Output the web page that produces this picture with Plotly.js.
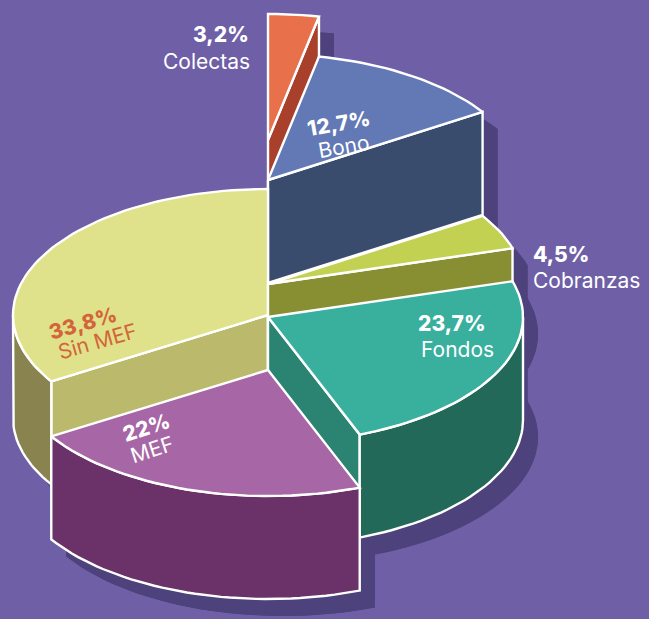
<!DOCTYPE html>
<html>
<head>
<meta charset="utf-8">
<script src="https://cdn.plot.ly/plotly-3.0.1.min.js"></script>
<style>html,body{margin:0;padding:0;background:#6e5fa6;}#chart{width:649px;height:619px;}</style>
</head>
<body>
<div id="chart"></div>
<script>
// ---- data ----
const categories = ["Colectas", "Bono", "Cobranzas", "Fondos", "MEF", "Sin MEF"];
const values = [3.2, 12.7, 4.5, 23.7, 22, 33.8];
const pctLabels = ["3,2%", "12,7%", "4,5%", "23,7%", "22%", "33,8%"];

// ---- style ----
const topColors = ["#e8704a", "#6279b6", "#c3d152", "#39af9e", "#a766a6", "#dfe28a"];
const radialColors = ["#a8402c", "#3a4c6e", "#878f32", "#2b8471", "#6a3268", "#bbb96b"];
const outerColors = ["#a8402c", "#3a4c6e", "#878f32", "#22695a", "#6a3268", "#88834f"];
const topCenterY = [140, 180, 284, 317, 370, 315];   // visual elevation of each slice (px)
const labelColors = ["#ffffff", "#ffffff", "#ffffff", "#ffffff", "#ffffff", "#d4643a"];
const bg = "#6e5fa6", shadowColor = "#4d427b";
const CX = 268, RX = 255, RY = 126, H = 103;
const SHX = 15, SHY = 17;

const total = values.reduce((s, v) => s + v, 0);
const slices = [];
let acc = 0;
values.forEach((v, i) => {
  const a = acc / total * 360;
  acc += v;
  const b = acc / total * 360;
  slices.push({i, a, b, mid: (a + b) / 2, yc: topCenterY[i]});
});

const rad = d => d * Math.PI / 180;
function arcPts(a, b, yc) {
  const n = Math.max(2, Math.ceil((b - a) / 2));
  const xs = [], ys = [];
  for (let k = 0; k <= n; k++) {
    const t = rad(a + (b - a) * k / n);
    xs.push(CX + RX * Math.sin(t));
    ys.push(yc - RY * Math.cos(t));
  }
  return {xs, ys};
}
function pt(th, yc) { const t = rad(th); return [CX + RX * Math.sin(t), yc - RY * Math.cos(t)]; }

function sectorPoly(s, yc) {
  const p = arcPts(s.a, s.b, yc);
  return {x: [CX, ...p.xs, CX], y: [yc, ...p.ys, yc]};
}
function bandPoly(a, b, yc) {
  const t = arcPts(a, b, yc), bo = arcPts(a, b, yc + H);
  return {x: [...t.xs, ...bo.xs.slice().reverse(), t.xs[0]], y: [...t.ys, ...bo.ys.slice().reverse(), t.ys[0]]};
}
function radialPoly(th, yc) {
  const p = pt(th, yc);
  return {x: [CX, p[0], p[0], CX, CX], y: [yc, p[1], p[1] + H, yc + H, yc]};
}

const traces = [];
function poly(P, fill, line, dx = 0, dy = 0) {
  traces.push({
    type: "scatter", mode: "lines", fill: "toself",
    x: P.x.map(v => v + dx), y: P.y.map(v => v + dy),
    fillcolor: fill,
    line: line ? {color: "#ffffff", width: 2.4} : {width: 0, color: fill},
    hoverinfo: "skip", showlegend: false
  });
}

// shadows
slices.forEach(s => {
  poly(sectorPoly(s, s.yc), shadowColor, false, SHX, SHY);
  poly(sectorPoly(s, s.yc + H), shadowColor, false, SHX, SHY);
  poly(bandPoly(s.a, s.b, s.yc), shadowColor, false, SHX, SHY);
  poly(radialPoly(s.a, s.yc), shadowColor, false, SHX, SHY);
  poly(radialPoly(s.b, s.yc), shadowColor, false, SHX, SHY);
});

// slices, back to front
slices.slice().sort((p, q) => Math.cos(rad(q.mid)) - Math.cos(rad(p.mid))).forEach(s => {
  const i = s.i;
  if (Math.sin(rad(s.a)) < -1e-6) poly(radialPoly(s.a, s.yc), radialColors[i], true);
  if (Math.sin(rad(s.b)) > 1e-6) poly(radialPoly(s.b, s.yc), radialColors[i], true);
  const fa = Math.max(s.a, 90), fb = Math.min(s.b, 270);
  if (fb > fa) poly(bandPoly(fa, fb, s.yc), outerColors[i], true);
  poly(sectorPoly(s, s.yc), topColors[i], true);
});

// labels
const labelPos = [
  {x: 250, y: 34, x2: 251, y2: 61, anchor: "right", ang: 0},
  {x: 338, y: 123, x2: 343, y2: 146, anchor: "center", ang: -10},
  {x: 532, y: 254, x2: 532, y2: 280, anchor: "left", ang: 0},
  {x: 417, y: 323, x2: 420, y2: 349, anchor: "left", ang: 0},
  {x: 146, y: 427, x2: 152, y2: 449, anchor: "center", ang: -18},
  {x: 82, y: 323, x2: 97, y2: 341, anchor: "center", ang: -16}
];
const FONT = "Inter, 'Noto Sans', sans-serif";
const annotations = [];
categories.forEach((c, i) => {
  const L = labelPos[i];
  annotations.push({x: L.x, y: L.y, text: pctLabels[i], showarrow: false, borderpad: 0,
    xanchor: L.anchor, yanchor: "middle", textangle: L.ang,
    font: {family: FONT, size: 21, weight: 800, color: labelColors[i]}});
  annotations.push({x: L.x2, y: L.y2, text: c, showarrow: false, borderpad: 0,
    xanchor: L.anchor, yanchor: "middle", textangle: L.ang,
    font: {family: FONT, size: 21, weight: 400, color: labelColors[i]}});
});

const layout = {
  width: 649, height: 619,
  margin: {l: 0, r: 0, t: 0, b: 0},
  paper_bgcolor: bg, plot_bgcolor: bg,
  xaxis: {range: [0, 649], visible: false, fixedrange: true},
  yaxis: {range: [619, 0], visible: false, fixedrange: true},
  annotations
};
Plotly.newPlot("chart", traces, layout, {displayModeBar: false, staticPlot: true});
</script>
</body>
</html>
